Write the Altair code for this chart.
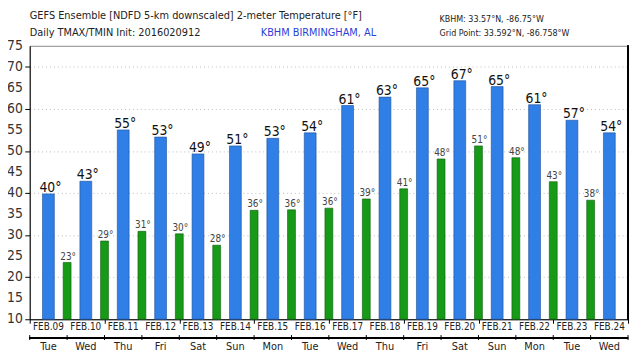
import altair as alt
import pandas as pd

dates = ["FEB.09", "FEB.10", "FEB.11", "FEB.12", "FEB.13", "FEB.14", "FEB.15", "FEB.16",
         "FEB.17", "FEB.18", "FEB.19", "FEB.20", "FEB.21", "FEB.22", "FEB.23", "FEB.24"]
weekdays = ["Tue", "Wed", "Thu", "Fri", "Sat", "Sun", "Mon", "Tue",
            "Wed", "Thu", "Fri", "Sat", "Sun", "Mon", "Tue", "Wed"]
tmax = [39.8, 42.8, 55.0, 53.3, 49.3, 51.2, 53.0, 54.3, 60.8, 62.8, 65.0, 66.7, 65.3, 61.0, 57.3, 54.3]
tmax_labels = [40, 43, 55, 53, 49, 51, 53, 54, 61, 63, 65, 67, 65, 61, 57, 54]
tmin = [23.5, 28.6, 30.9, 30.3, 27.6, 35.9, 36.0, 36.4, 38.6, 41.0, 48.1, 51.2, 48.4, 42.7, 38.3]
tmin_labels = [23, 29, 31, 30, 28, 36, 36, 36, 39, 41, 48, 51, 48, 43, 38]
yticks = [10, 15, 20, 25, 30, 35, 40, 45, 50, 55, 60, 65, 70, 75]

W, H = 606, 277
FONT = "DejaVu Sans Condensed"
NARROW = "Liberation Sans Narrow, DejaVu Sans Condensed, sans-serif"

days = pd.DataFrame({
    "date": dates,
    "wd": weekdays,
    "pos": [i + 0.5 for i in range(len(dates))],
    "tmax": tmax,
    "lab": [f"{v}°" for v in tmax_labels],
    "base": 10,
})
nights = pd.DataFrame({
    "pos": [i + 1.0 for i in range(len(tmin))],
    "tmin": tmin,
    "lab": [f"{v}°" for v in tmin_labels],
    "base": 10,
})
bounds = pd.DataFrame({"b": list(range(len(dates) + 1))})
ytk = pd.DataFrame({"v": yticks, "t": [str(v) for v in yticks]})

xs = alt.Scale(domain=[0, 16], nice=False, zero=False, padding=0)
ys = alt.Scale(domain=[10, 75], nice=False, zero=False, padding=0)

xaxis = alt.Axis(values=list(range(17)), labels=False, title=None, grid=False,
                 tickSize=4, tickColor="#000", domainColor="#000", domainWidth=1)
yaxis = alt.Axis(values=yticks, title=None, labels=False, tickSize=5, tickColor="#000",
                 domainColor="#000", gridColor="#bbbbbb", gridDash=[1, 3])

blue = alt.Chart(days).mark_bar(size=12, color="#2F7FE6", stroke="#1d4f9c", strokeWidth=0.6).encode(
    x=alt.X("pos:Q", scale=xs, axis=xaxis),
    y=alt.Y("tmax:Q", scale=ys, axis=yaxis),
    y2="base:Q",
)
green = alt.Chart(nights).mark_bar(size=8, color="#179A17", stroke="#0d5a0d", strokeWidth=0.6).encode(
    x=alt.X("pos:Q", scale=xs),
    y=alt.Y("tmin:Q", scale=ys),
    y2="base:Q",
)
ylab = alt.Chart(ytk).mark_text(fontSize=14, font=FONT, color="#333", align="right", baseline="middle").encode(
    x=alt.value(-7), y=alt.Y("v:Q", scale=ys), text="t:N")
maxlab = alt.Chart(days).mark_text(fontSize=14, font=FONT, color="#111", baseline="bottom", dy=1, dx=2).encode(
    x=alt.X("pos:Q", scale=xs), y=alt.Y("tmax:Q", scale=ys), text="lab:N")
minlab = alt.Chart(nights).mark_text(fontSize=10, font=FONT, color="#444", baseline="bottom", dy=-1, dx=1).encode(
    x=alt.X("pos:Q", scale=xs), y=alt.Y("tmin:Q", scale=ys), text="lab:N")

datelab = alt.Chart(days).mark_text(fontSize=10, font=NARROW, color="#222", baseline="middle").encode(
    x=alt.X("pos:Q", scale=xs), y=alt.value(H + 8), text="date:N")
wdlab = alt.Chart(days).mark_text(fontSize=11, font=NARROW, color="#222", baseline="middle").encode(
    x=alt.X("pos:Q", scale=xs), y=alt.value(H + 28), text="wd:N")
row2line = alt.Chart(bounds).mark_rule(color="#000", strokeWidth=1).encode(
    x=alt.value(0), x2=alt.value(W), y=alt.value(H + 19))
row2ticks = alt.Chart(bounds).mark_rule(color="#000", strokeWidth=1).encode(
    x=alt.X("b:Q", scale=xs), y=alt.value(H + 16), y2=alt.value(H + 21))
rightedge = alt.Chart(bounds).mark_rule(color="#000", strokeWidth=1).encode(
    x=alt.value(W), y=alt.value(0), y2=alt.value(H))

def note(txt, x, y, size, color, align="left"):
    return alt.Chart(pd.DataFrame({"t": [txt]})).mark_text(
        fontSize=size, font=FONT, color=color, align=align, baseline="middle").encode(
        x=alt.value(x), y=alt.value(y), text="t:N")

notes = [
    note("GEFS Ensemble [NDFD 5-km downscaled] 2-meter Temperature [°F]", 0, -30, 11, "#222"),
    note("Daily TMAX/TMIN Init: 2016020912", 0, -13, 11, "#222"),
    note("KBHM BIRMINGHAM, AL", 234, -13, 11, "#2b3fd8"),
    note("KBHM: 33.57°N, -86.75°W", 415, -27, 9, "#222"),
    note("Grid Point: 33.592°N, -86.758°W", 415, -13, 9, "#222"),
]

chart = alt.layer(blue, green, ylab, maxlab, minlab, datelab, wdlab, row2line, row2ticks, rightedge, *notes).properties(
    width=W, height=H,
    autosize=alt.AutoSizeParams(type="none"),
    padding={"left": 22, "top": 36, "right": 4, "bottom": 39},
    background="white",
).configure_view(stroke="#888", strokeWidth=1)

chart.save("out.html", embed_options={"renderer": "svg", "actions": False})
